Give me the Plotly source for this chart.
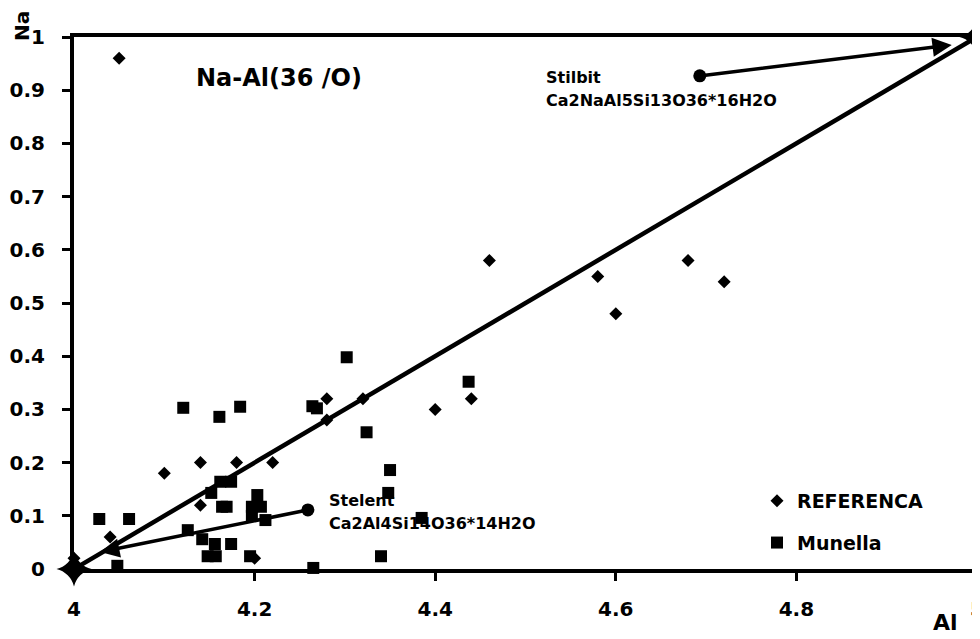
import plotly.graph_objects as go

# REFERENCA (diamonds)
ref_al = [4.05, 4.00, 4.04, 4.10, 4.14, 4.14, 4.18, 4.22, 4.20, 4.28, 4.28, 4.32,
          4.40, 4.44, 4.46, 4.58, 4.60, 4.68, 4.72]
ref_na = [0.96, 0.02, 0.06, 0.18, 0.20, 0.12, 0.20, 0.20, 0.02, 0.32, 0.28, 0.32,
          0.30, 0.32, 0.58, 0.55, 0.48, 0.58, 0.54]

# Munella (squares)
mun_al = [4.028, 4.061, 4.048, 4.121, 4.161, 4.184, 4.126, 4.142, 4.156, 4.174,
          4.148, 4.157, 4.195, 4.152, 4.162, 4.174, 4.164, 4.169, 4.203, 4.197,
          4.207, 4.197, 4.212, 4.302, 4.264, 4.269, 4.324, 4.350, 4.348, 4.385,
          4.340, 4.265, 4.437]
mun_na = [0.094, 0.094, 0.006, 0.303, 0.286, 0.305, 0.073, 0.056, 0.047, 0.047,
          0.024, 0.024, 0.024, 0.143, 0.164, 0.164, 0.117, 0.117, 0.139, 0.117,
          0.117, 0.100, 0.092, 0.398, 0.306, 0.302, 0.257, 0.186, 0.143, 0.096,
          0.024, 0.002, 0.352]

# Reference line (end members)
line_al = [4.0, 5.0]
line_na = [0.0, 1.0]

# Stilbit pointer: label point -> arrow tip
stilbit_al = [4.693, 4.972]
stilbit_na = [0.927, 0.985]
# Stelent pointer
stelent_al = [4.259, 4.029]
stelent_na = [0.111, 0.032]

FONT = "DejaVu Sans"

fig = go.Figure()

fig.add_trace(go.Scatter(
    x=line_al, y=line_na, mode="lines+markers", showlegend=False,
    line=dict(color="black", width=4.5),
    marker=dict(symbol="star-diamond", size=25, color="black"),
    cliponaxis=False, hoverinfo="skip"))

fig.add_trace(go.Scatter(
    x=ref_al, y=ref_na, mode="markers", name="REFERENCA", legendgroup="a",
    marker=dict(symbol="diamond", size=10, color="black"), cliponaxis=False))

fig.add_trace(go.Scatter(
    x=mun_al, y=mun_na, mode="markers", name="Munella", legendgroup="b",
    marker=dict(symbol="square", size=12, color="black"), cliponaxis=False))

fig.add_trace(go.Scatter(
    x=[stilbit_al[0], stelent_al[0]], y=[stilbit_na[0], stelent_na[0]],
    mode="markers", showlegend=False,
    marker=dict(symbol="circle", size=13, color="black"), cliponaxis=False))

for xs, ys in ((stilbit_al, stilbit_na), (stelent_al, stelent_na)):
    fig.add_annotation(x=xs[1], y=ys[1], ax=xs[0], ay=ys[0], xref="x", yref="y",
                       axref="x", ayref="y", text="", showarrow=True,
                       arrowhead=2, arrowsize=1.1, arrowwidth=3.5, arrowcolor="black",
                       standoff=0, startstandoff=0)

bold = dict(family=FONT, color="black", weight="bold")

def txt(x, y, s, size, **kw):
    fig.add_annotation(x=x, y=y, xref="paper", yref="paper", text=s, showarrow=False,
                       font=dict(size=size, **bold), **kw)

W, H = 903, 532
def px(xp): return (xp - 74) / W
def py(yp): return (569 - yp) / H

txt(px(544), py(77), "Stilbit", 16, xanchor="left", yanchor="middle")
txt(px(544), py(100), "Ca2NaAl5Si13O36*16H2O", 16, xanchor="left", yanchor="middle")
txt(px(327), py(500), "Stelent", 16, xanchor="left", yanchor="middle")
txt(px(327), py(523), "Ca2Al4Si14O36*14H2O", 16, xanchor="left", yanchor="middle")
txt(px(279), py(78), "Na-Al(36 /O)", 24, xanchor="center", yanchor="middle")
txt(px(22), py(26), "Na", 20, xanchor="center", yanchor="middle", textangle=-90)
txt(px(945), py(622), "Al", 22, xanchor="center", yanchor="middle")

axis_common = dict(showline=True, linewidth=4, linecolor="black", mirror=True,
                   showgrid=False, zeroline=False, ticks="outside", ticklen=8,
                   tickwidth=3, tickcolor="black", automargin=False,
                   ticklabeloverflow="allow",
                   tickfont=dict(size=20, **bold))

# page body has an 8px margin, so the figure is offset by 8px
fig.update_layout(
    width=972, height=631,
    margin=dict(l=66, r=3, t=29, b=70, autoexpand=False),
    plot_bgcolor="white", paper_bgcolor="white",
    xaxis=dict(range=[4, 5], dtick=0.2, tick0=4, ticklabelstandoff=11, **axis_common),
    yaxis=dict(range=[0, 1], dtick=0.1, tick0=0, ticklabelstandoff=13, **axis_common),
    legend=dict(x=px(757), y=py(482), xanchor="left", yanchor="top",
                bgcolor="rgba(0,0,0,0)", borderwidth=0, tracegroupgap=14,
                traceorder="grouped", font=dict(size=19, **bold)),
    font=dict(family=FONT, color="black"),
)

fig.write_html("out.html")
